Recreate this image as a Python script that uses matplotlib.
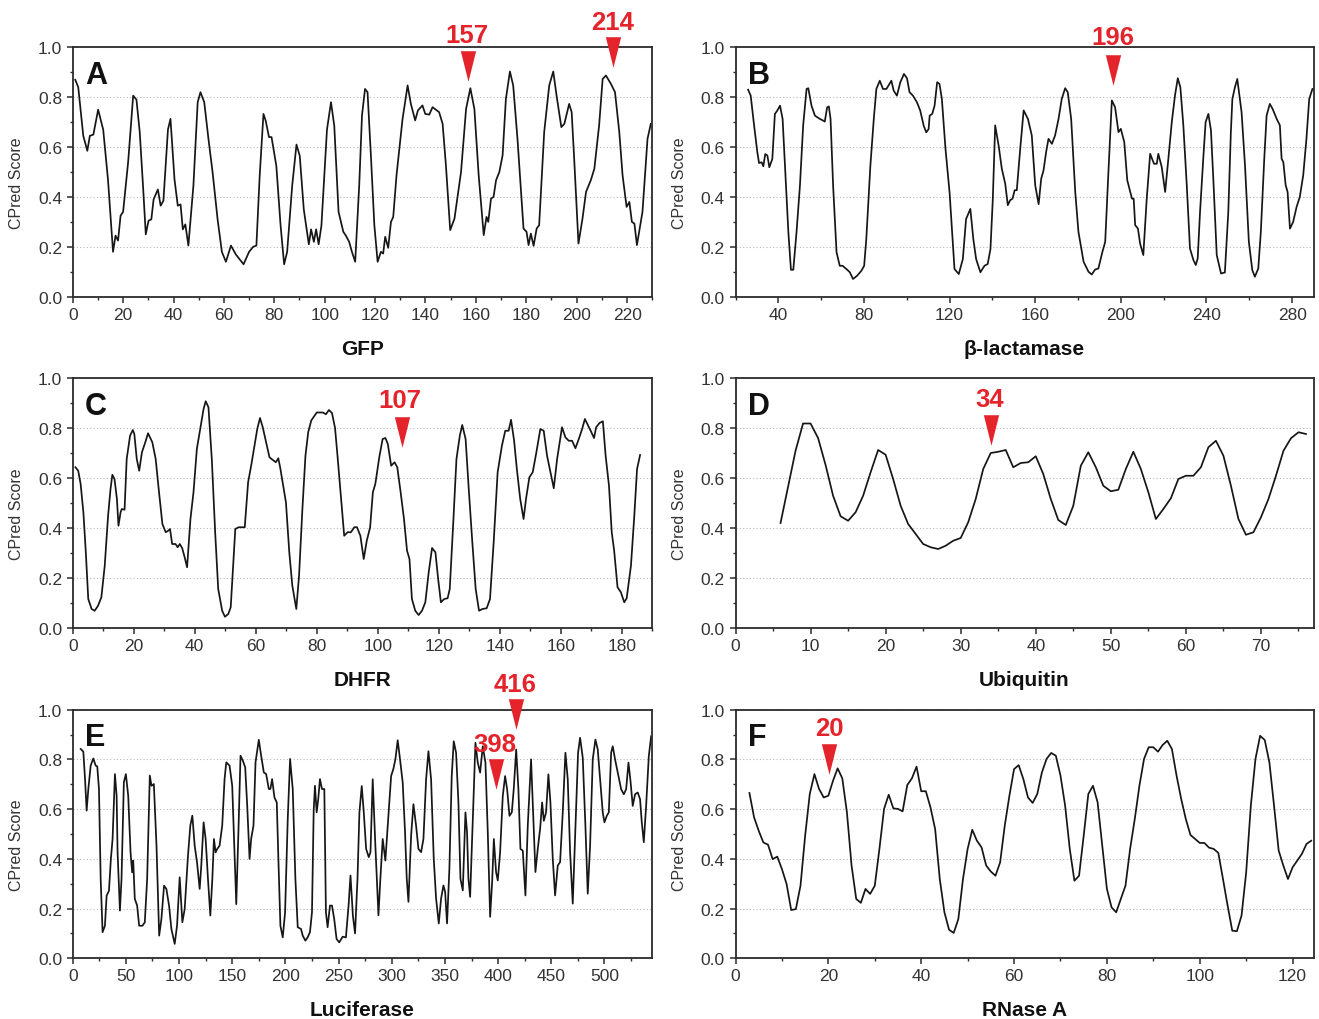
import matplotlib
matplotlib.use("Agg")
import matplotlib.pyplot as plt
from matplotlib.ticker import MultipleLocator
from matplotlib.path import Path

plt.rcParams['font.family'] = ['Liberation Sans', 'DejaVu Sans']

# ---------------- data ----------------
gfp_x = [1, 2.2, 4.2, 5.8, 6.8, 8.2, 10.1, 12.1, 14, 16, 17, 18, 19, 20, 22, 24, 25.3, 26.6, 27.9, 29,
         30.1, 31.2, 32.1, 33.8, 34.9, 36, 37.8, 38.8, 40.4, 41.7, 42.8, 43.7, 44.7, 45.9, 47.9, 49.6,
         50.7, 52.2, 53.9, 55.5, 57.5, 59.2, 60.8, 62.8, 64.7, 67.8, 70, 71.6, 72.9, 74.2, 75.7, 76.6,
         77.9, 78.9, 80.8, 82.5, 83.9, 85.1, 87.1, 88.8, 90.1, 91.7, 93.7, 94.6, 95.7, 96.6, 97.6, 98.7,
         100.9, 102.5, 103.8, 105.5, 107.4, 108.4, 109.7, 110.8, 112.1, 113.7, 114.8, 116, 117, 118.4,
         119.7, 121, 122.3, 123.2, 124, 125.2, 126.3, 127.2, 128.5, 130.9, 132.9, 134.2, 135.9, 137,
         138.8, 139.9, 141.5, 142.8, 145.4, 146.8, 148.1, 149.8, 151.5, 154.1, 156.1, 157.8, 159.4,
         161.1, 163.1, 164.2, 164.9, 166, 167, 168, 169.3, 170.6, 171.9, 173.5, 174.8, 176.5, 178.9,
         180.1, 180.9, 181.8, 182.9, 184.1, 185.1, 187.1, 189.1, 190.7, 192, 193.9, 195.1, 197, 198,
         199, 200.7, 202.3, 203.7, 205.6, 207, 208.9, 210.3, 211.6, 213.6, 215.2, 216.9, 218.2, 219.8,
         220.9, 221.9, 222.9, 223.9, 226.1, 228.1, 229.4]
gfp_y = [0.87, 0.84, 0.645, 0.585, 0.645, 0.65, 0.75, 0.67, 0.47, 0.18, 0.245, 0.225, 0.325, 0.34, 0.54,
         0.806, 0.79, 0.66, 0.445, 0.25, 0.305, 0.31, 0.39, 0.43, 0.365, 0.385, 0.67, 0.713, 0.47, 0.365,
         0.37, 0.27, 0.29, 0.205, 0.445, 0.78, 0.82, 0.78, 0.63, 0.5, 0.31, 0.18, 0.14, 0.205, 0.17, 0.13,
         0.18, 0.2, 0.205, 0.485, 0.733, 0.705, 0.64, 0.64, 0.525, 0.285, 0.13, 0.18, 0.445, 0.61, 0.565,
         0.35, 0.21, 0.27, 0.22, 0.27, 0.21, 0.285, 0.67, 0.78, 0.685, 0.34, 0.26, 0.245, 0.22, 0.18,
         0.14, 0.447, 0.727, 0.833, 0.82, 0.553, 0.287, 0.14, 0.18, 0.173, 0.24, 0.196, 0.3, 0.32, 0.487,
         0.713, 0.847, 0.773, 0.707, 0.747, 0.767, 0.733, 0.73, 0.76, 0.74, 0.693, 0.527, 0.267, 0.313,
         0.5, 0.753, 0.836, 0.753, 0.487, 0.247, 0.32, 0.3, 0.393, 0.4, 0.467, 0.5, 0.567, 0.793, 0.903,
         0.847, 0.633, 0.273, 0.26, 0.207, 0.253, 0.204, 0.273, 0.287, 0.66, 0.847, 0.903, 0.807, 0.68,
         0.693, 0.773, 0.74, 0.553, 0.213, 0.313, 0.42, 0.467, 0.513, 0.687, 0.873, 0.887, 0.853, 0.82,
         0.66, 0.487, 0.36, 0.38, 0.3, 0.293, 0.207, 0.34, 0.633, 0.693]

bla_x = [25.9, 27.1, 28.7, 30.2, 31, 32.2, 33, 33.9, 34.9, 35.8, 37.2, 38.4, 39.5, 40.8, 42, 43.1, 44.7,
         45.9, 47, 48.5, 50.1, 51.6, 53.2, 54, 55.5, 57.1, 59.4, 61, 61.7, 62.8, 63.6, 64.4, 65.6, 67.2,
         68.7, 70, 71.8, 73.4, 74.9, 76.8, 78.8, 80.1, 81.1, 83, 84.6, 85.8, 87.4, 88.9, 90.5, 92.8, 93.9,
         95.4, 97, 98.7, 100.1, 101.3, 102.9, 104.8, 106.3, 107.9, 109.1, 110.2, 110.7, 111.9, 113,
         114.2, 115.3, 116.4, 118.1, 120, 122.3, 124.3, 126.2, 127.7, 129.7, 131.1, 132.4, 134.4, 136.3,
         137.8, 139.1, 140.2, 141.3, 142.9, 144.4, 146, 147.2, 148.3, 149.4, 150.4, 151.4, 153, 154.6,
         156.6, 158.4, 160, 161.6, 162.8, 163.9, 165.1, 166.2, 167.8, 169.3, 170.9, 172.4, 174, 175.2,
         176.8, 178.7, 180.2, 182.6, 184.9, 186.4, 188, 189.5, 191.4, 192.7, 194.2, 195.8, 197.3, 198.9,
         200, 201.6, 203, 204.4, 205.2, 206, 206.7, 208, 209, 210.5, 212.1, 213.7, 215.5, 216.8, 217.5,
         219.1, 220.7, 222.2, 223.8, 225.3, 226.6, 227.8, 229.2, 230.8, 232.3, 233.9, 235, 235.9, 237,
         238.5, 239.6, 240.9, 242.1, 243.2, 244.8, 246.8, 248.6, 250.2, 251.4, 252.1, 253.3, 254.4,
         256.4, 258, 259.8, 261.4, 262.6, 264.2, 265.4, 267, 268.1, 269.6, 270.9, 272.8, 274.3, 275.1,
         275.9, 277, 277.9, 279, 280.5, 282.1, 283.6, 285.2, 286.7, 288, 289.5]
bla_y = [0.83, 0.806, 0.686, 0.579, 0.536, 0.539, 0.523, 0.572, 0.566, 0.519, 0.552, 0.733, 0.746, 0.766,
         0.713, 0.525, 0.258, 0.108, 0.108, 0.258, 0.445, 0.686, 0.833, 0.836, 0.766, 0.726, 0.713,
         0.706, 0.702, 0.759, 0.763, 0.713, 0.445, 0.178, 0.124, 0.124, 0.111, 0.098, 0.071, 0.084,
         0.104, 0.124, 0.231, 0.525, 0.713, 0.833, 0.866, 0.833, 0.833, 0.866, 0.826, 0.806, 0.86, 0.893,
         0.876, 0.82, 0.806, 0.779, 0.746, 0.686, 0.659, 0.672, 0.726, 0.733, 0.766, 0.86, 0.853, 0.793,
         0.592, 0.418, 0.111, 0.091, 0.151, 0.311, 0.352, 0.231, 0.151, 0.098, 0.124, 0.131, 0.191,
         0.392, 0.687, 0.607, 0.513, 0.453, 0.367, 0.387, 0.393, 0.427, 0.427, 0.593, 0.747, 0.713,
         0.647, 0.447, 0.371, 0.473, 0.507, 0.58, 0.633, 0.613, 0.647, 0.713, 0.793, 0.836, 0.82, 0.713,
         0.42, 0.26, 0.14, 0.1, 0.089, 0.109, 0.113, 0.18, 0.22, 0.5, 0.787, 0.76, 0.66, 0.673, 0.62,
         0.467, 0.42, 0.393, 0.393, 0.287, 0.273, 0.213, 0.167, 0.393, 0.573, 0.533, 0.533, 0.573, 0.52,
         0.42, 0.553, 0.7, 0.807, 0.876, 0.84, 0.687, 0.447, 0.193, 0.147, 0.127, 0.153, 0.34, 0.553,
         0.7, 0.733, 0.667, 0.473, 0.167, 0.093, 0.097, 0.34, 0.66, 0.793, 0.84, 0.873, 0.74, 0.527,
         0.22, 0.107, 0.08, 0.113, 0.26, 0.553, 0.727, 0.773, 0.753, 0.713, 0.687, 0.553, 0.54, 0.447,
         0.42, 0.273, 0.3, 0.36, 0.4, 0.487, 0.633, 0.793, 0.833]

dhfr_x = [0.9, 1.8, 2.6, 3.5, 4.3, 5.1, 6.2, 7.2, 8.3, 9.4, 10.5, 11.6, 12.4, 13, 13.7, 14.5, 15, 15.7,
          16.1, 17, 17.7, 18.8, 19.7, 20.2, 21, 21.8, 22.7, 23.8, 24.7, 26.1, 27.2, 28.3, 29.4, 30.5,
          31.3, 31.9, 32.6, 33.7, 34.4, 35.1, 35.9, 36.7, 37.5, 38.6, 39.6, 40.7, 42, 42.9, 43.6, 44.5,
          45.6, 46.7, 47.7, 49, 49.9, 51, 51.8, 52.6, 53.3, 54.4, 56.4, 57.5, 58.5, 59.6, 60.5, 61.4,
          62.3, 63.4, 64.5, 65.5, 66.6, 67.4, 68, 69, 69.9, 71, 72, 73.3, 74.2, 75.3, 76.3, 77.2, 78.2,
          80, 82, 83, 84, 85, 86, 86.8, 87.9, 89, 90.1, 91.2, 92.3, 93.2, 94.3, 95.4, 96.4, 97.5, 98.4,
          99.2, 100.5, 101.6, 102.5, 103.3, 104.4, 105.5, 106.4, 107.5, 108.6, 109.6, 110.4, 111.2,
          112.3, 113.4, 114.5, 115.6, 116.7, 117.8, 118.9, 119.8, 120.7, 121.8, 122.9, 123.6, 124.7,
          125.8, 126.9, 127.7, 128.8, 129.9, 131, 132.1, 133.2, 134.3, 135.7, 136.8, 138, 139.3, 140.7,
          141.8, 142.9, 143.7, 144.7, 145.6, 146.7, 147.8, 148.6, 149.7, 150.8, 151.9, 153.3, 154.4,
          155.5, 156.6, 157.7, 158.8, 160.4, 161.5, 162.6, 163.7, 164.8, 165.9, 167, 167.9, 169, 169.8,
          170.9, 171.6, 172.7, 173.8, 174.7, 175.8, 176.7, 177.5, 178.6, 179.7, 180.8, 181.6, 183,
          184.1, 185, 186]
dhfr_y = [0.643, 0.629, 0.576, 0.463, 0.303, 0.116, 0.076, 0.069, 0.089, 0.123, 0.249, 0.449, 0.556,
          0.613, 0.596, 0.516, 0.409, 0.463, 0.476, 0.473, 0.676, 0.769, 0.792, 0.776, 0.676, 0.629,
          0.703, 0.743, 0.779, 0.743, 0.676, 0.543, 0.416, 0.383, 0.389, 0.396, 0.336, 0.336, 0.323,
          0.336, 0.319, 0.283, 0.243, 0.436, 0.543, 0.716, 0.809, 0.876, 0.907, 0.883, 0.676, 0.383,
          0.156, 0.069, 0.045, 0.056, 0.083, 0.249, 0.396, 0.403, 0.403, 0.583, 0.649, 0.729, 0.796,
          0.84, 0.803, 0.743, 0.683, 0.673, 0.663, 0.679, 0.643, 0.569, 0.503, 0.303, 0.169, 0.076,
          0.209, 0.476, 0.689, 0.783, 0.83, 0.862, 0.862, 0.855, 0.872, 0.86, 0.8, 0.689, 0.529, 0.369,
          0.383, 0.383, 0.403, 0.403, 0.369, 0.276, 0.349, 0.403, 0.543, 0.576, 0.683, 0.756, 0.76,
          0.736, 0.649, 0.663, 0.643, 0.543, 0.436, 0.309, 0.276, 0.116, 0.069, 0.052, 0.069, 0.103,
          0.223, 0.32, 0.303, 0.196, 0.103, 0.116, 0.119, 0.156, 0.409, 0.676, 0.769, 0.812, 0.756,
          0.543, 0.343, 0.156, 0.069, 0.076, 0.079, 0.116, 0.343, 0.623, 0.729, 0.789, 0.789, 0.833,
          0.749, 0.636, 0.516, 0.436, 0.516, 0.603, 0.623, 0.696, 0.796, 0.789, 0.689, 0.623, 0.559,
          0.676, 0.803, 0.763, 0.749, 0.749, 0.719, 0.756, 0.796, 0.836, 0.809, 0.789, 0.76, 0.803, 0.82,
          0.827, 0.689, 0.569, 0.383, 0.309, 0.163, 0.143, 0.103, 0.119, 0.249, 0.449, 0.636, 0.692]

ubq_x = [6, 8, 9, 10, 11, 12, 13, 14, 15, 16, 17, 18, 19, 20, 21, 22, 23, 24, 25, 26, 27, 28, 29, 30,
         31, 32, 33, 34, 35, 36, 37, 38, 39, 40, 41, 42, 43, 44, 45, 46, 47, 48, 49, 50, 51, 52, 53, 54,
         55, 56, 57, 58, 59, 60, 61, 62, 63, 64, 65, 66, 67, 68, 69, 70, 71, 72, 73, 74, 75, 76]
ubq_y = [0.42, 0.709, 0.818, 0.818, 0.76, 0.652, 0.529, 0.447, 0.429, 0.463, 0.529, 0.623, 0.712,
         0.693, 0.596, 0.489, 0.416, 0.376, 0.336, 0.323, 0.316, 0.329, 0.349, 0.36, 0.423, 0.516,
         0.636, 0.7, 0.705, 0.712, 0.643, 0.66, 0.663, 0.687, 0.616, 0.516, 0.432, 0.412, 0.489, 0.649,
         0.703, 0.643, 0.569, 0.547, 0.553, 0.636, 0.705, 0.636, 0.543, 0.436, 0.476, 0.519, 0.596,
         0.609, 0.609, 0.643, 0.723, 0.749, 0.689, 0.569, 0.436, 0.373, 0.383, 0.443, 0.516, 0.609,
         0.709, 0.759, 0.783, 0.776]

luc_x = [7.5, 10, 11.6, 13.1, 14.7, 16.9, 19.4, 21.6, 23.1, 24.7, 26.3, 28.1, 30.3, 31.9, 34.1, 35.9,
         37.5, 39.7, 41.3, 42.2, 44.4, 45.9, 48.1, 50, 52.2, 54.4, 55.9, 56.9, 58.4, 60.6, 62.5, 65.6,
         67.8, 70, 72.5, 74.1, 76.3, 78.8, 81.3, 83.4, 85.9, 88.1, 90.6, 92.8, 95.9, 98.1, 100.6, 103.1,
         105.3, 108.4, 110.6, 112.5, 114.7, 116.9, 119.4, 120.9, 123.1, 125, 127.2, 129.4, 131.3,
         132.8, 134.4, 135.9, 138.1, 140.6, 142.8, 144.4, 147.5, 150, 151.6, 153.8, 155.9, 157.8, 160,
         162.2, 164.1, 166.3, 167.8, 170, 171.9, 175, 177.2, 179.7, 181.9, 184.4, 185.9, 187.5, 189.7,
         191.9, 193.4, 195.3, 197.5, 199.7, 202.2, 204.4, 206.9, 209.4, 211.6, 214.7, 216.3, 218.8,
         220.9, 223.1, 225, 226.6, 227.8, 229.4, 230.9, 232.5, 234.4, 236.6, 238.1, 239.7, 241.9,
         243.8, 245.9, 248.1, 250.6, 253.9, 256.9, 259.4, 261.2, 263.5, 265.5, 267.8, 269.6, 271.8,
         273.7, 275.9, 278.4, 280, 282.1, 284.6, 287.5, 289.3, 291.5, 294, 296.2, 299.4, 301.6, 303.4,
         305.6, 307.8, 310.3, 312.5, 314.1, 315.7, 318.2, 320.4, 322.9, 325.1, 327.6, 329.8, 332.3,
         334.5, 337, 339.5, 341.7, 344.2, 346.4, 348.6, 350.2, 352, 354.2, 356.4, 358.3, 360.5, 362.7,
         364.6, 366.8, 369.3, 370.8, 372.1, 373.7, 376.2, 378.7, 380.9, 383.1, 385.6, 388.1, 390.3,
         392.5, 394.4, 396, 398.1, 399.7, 401.9, 404.4, 406.6, 408.5, 410.7, 412.9, 414.7, 417, 419.1,
         421, 423.2, 425.7, 427.9, 431, 433.2, 435.1, 437.3, 439.5, 441.4, 443, 445.1, 447.3, 449.2,
         451.4, 453.6, 456.1, 458.3, 460.8, 463.3, 465.5, 467.7, 470.2, 472.7, 475.2, 477.1, 479.6,
         482.1, 484.3, 486.5, 489, 491.5, 493.7, 495.9, 498.4, 500, 502.2, 504.1, 506.3, 507.8, 510,
         512.5, 515.7, 518.2, 520.4, 522.6, 524.5, 526.6, 528.8, 531.3, 533.5, 535.1, 537, 539.2,
         541.7, 543.9]
luc_y = [0.842, 0.831, 0.721, 0.594, 0.681, 0.775, 0.804, 0.775, 0.772, 0.681, 0.319, 0.105, 0.131,
         0.252, 0.272, 0.4, 0.48, 0.741, 0.654, 0.426, 0.192, 0.319, 0.708, 0.741, 0.654, 0.426, 0.346,
         0.393, 0.239, 0.212, 0.131, 0.131, 0.145, 0.319, 0.735, 0.694, 0.701, 0.453, 0.091, 0.158,
         0.292, 0.279, 0.212, 0.118, 0.058, 0.131, 0.326, 0.145, 0.198, 0.413, 0.534, 0.574, 0.453,
         0.386, 0.279, 0.373, 0.547, 0.48, 0.319, 0.172, 0.319, 0.48, 0.426, 0.44, 0.453, 0.534, 0.721,
         0.788, 0.775, 0.694, 0.493, 0.218, 0.52, 0.815, 0.795, 0.768, 0.614, 0.4, 0.48, 0.534, 0.788,
         0.879, 0.815, 0.748, 0.741, 0.681, 0.681, 0.721, 0.647, 0.627, 0.4, 0.131, 0.084, 0.185, 0.56,
         0.802, 0.681, 0.319, 0.125, 0.118, 0.091, 0.071, 0.084, 0.105, 0.185, 0.594, 0.694, 0.587,
         0.641, 0.721, 0.681, 0.681, 0.185, 0.125, 0.212, 0.212, 0.158, 0.078, 0.064, 0.087, 0.084,
         0.212, 0.333, 0.17, 0.1, 0.32, 0.587, 0.693, 0.587, 0.44, 0.407, 0.427, 0.72, 0.453, 0.173,
         0.32, 0.48, 0.393, 0.533, 0.733, 0.763, 0.8, 0.877, 0.8, 0.707, 0.507, 0.32, 0.227, 0.493,
         0.62, 0.533, 0.44, 0.427, 0.48, 0.72, 0.833, 0.72, 0.4, 0.24, 0.14, 0.24, 0.293, 0.267, 0.14,
         0.36, 0.733, 0.873, 0.827, 0.627, 0.32, 0.273, 0.587, 0.507, 0.32, 0.247, 0.56, 0.867, 0.787,
         0.747, 0.853, 0.787, 0.507, 0.167, 0.307, 0.48, 0.347, 0.313, 0.427, 0.653, 0.733, 0.68,
         0.573, 0.587, 0.68, 0.84, 0.68, 0.44, 0.433, 0.253, 0.533, 0.8, 0.56, 0.347, 0.44, 0.52, 0.627,
         0.553, 0.587, 0.74, 0.627, 0.4, 0.253, 0.373, 0.387, 0.587, 0.827, 0.72, 0.427, 0.22, 0.52,
         0.827, 0.887, 0.807, 0.533, 0.26, 0.453, 0.8, 0.88, 0.84, 0.72, 0.587, 0.547, 0.573, 0.587,
         0.827, 0.853, 0.8, 0.747, 0.68, 0.66, 0.68, 0.787, 0.713, 0.613, 0.66, 0.667, 0.64, 0.547,
         0.467, 0.613, 0.813, 0.893]

rna_x = list(range(3, 125))
rna_y = [0.665, 0.567, 0.513, 0.466, 0.457, 0.399, 0.409, 0.359, 0.299, 0.194, 0.198, 0.292, 0.493,
         0.661, 0.741, 0.681, 0.647, 0.654, 0.714, 0.764, 0.724, 0.587, 0.373, 0.239, 0.223, 0.279,
         0.259, 0.292, 0.44, 0.601, 0.658, 0.603, 0.601, 0.591, 0.697, 0.724, 0.771, 0.672, 0.672,
         0.607, 0.52, 0.319, 0.185, 0.115, 0.102, 0.158, 0.319, 0.44, 0.517, 0.473, 0.446, 0.373,
         0.349, 0.332, 0.386, 0.534, 0.654, 0.761, 0.777, 0.721, 0.647, 0.625, 0.661, 0.748, 0.802,
         0.826, 0.815, 0.735, 0.614, 0.44, 0.312, 0.332, 0.493, 0.661, 0.694, 0.627, 0.453, 0.279,
         0.205, 0.185, 0.239, 0.292, 0.44, 0.56, 0.694, 0.802, 0.849, 0.849, 0.831, 0.858, 0.875,
         0.842, 0.735, 0.641, 0.56, 0.496, 0.48, 0.464, 0.464, 0.445, 0.44, 0.424, 0.319, 0.212, 0.111,
         0.109, 0.172, 0.346, 0.614, 0.802, 0.895, 0.878, 0.788, 0.614, 0.433, 0.373, 0.319, 0.366,
         0.393, 0.42, 0.46, 0.473]

# panel letters, axis names, x-limits, tick steps
letters = ['A', 'B', 'C', 'D', 'E', 'F']
names = ['GFP', '\u03b2-lactamase', 'DHFR', 'Ubiquitin', 'Luciferase', 'RNase A']
xlims = [(0, 230), (20, 290), (0, 190), (0, 77), (0, 545), (0, 124.5)]
major_steps = [20, 40, 20, 10, 50, 20]
minor_steps = [10, 20, 10, 5, 25, 10]

# annotations: (label, triangle x, triangle centre y, text x, text baseline y)
ann_panel = [0, 0, 1, 2, 3, 4, 4, 5]
ann_label = ['157', '214', '196', '107', '34', '416', '398', '20']
ann_tri_x = [157, 214.5, 196.4, 107.8, 34, 416.5, 398, 20.2]
ann_tri_y = [0.926, 0.981, 0.908, 0.785, 0.794, 0.983, 0.74, 0.803]
ann_txt_x = [156.6, 214.3, 196.4, 107.4, 33.9, 415.9, 396.6, 20.2]
ann_txt_y = [1.023, 1.075, 1.012, 0.883, 0.889, 1.076, 0.833, 0.898]

series = [(gfp_x, gfp_y), (bla_x, bla_y), (dhfr_x, dhfr_y), (ubq_x, ubq_y), (luc_x, luc_y), (rna_x, rna_y)]

# ---------------- figure ----------------
W, H = 1319, 1020
fig = plt.figure(figsize=(W / 100, H / 100), dpi=100)

# pixel boxes (left, right, top, bottom)
boxes = [(72.7, 652.3, 48.3, 297.7), (735.5, 1313.5, 48.3, 297.7),
         (72.7, 652.3, 379.0, 629.0), (735.5, 1313.5, 379.0, 629.0),
         (72.7, 652.3, 710.7, 959.3), (735.5, 1313.5, 710.7, 959.3)]

dark = '#2b2b2b'
red = '#e4232b'
tri = Path([(-0.5, 1), (0.5, 1), (0, -1), (-0.5, 1)],
           [Path.MOVETO, Path.LINETO, Path.LINETO, Path.CLOSEPOLY])

axes = []
for i, (l, r, t, b) in enumerate(boxes):
    ax = fig.add_axes([l / W, 1 - b / H, (r - l) / W, (b - t) / H])
    axes.append(ax)
    xs, ys = series[i]
    ax.plot(xs, ys, color='#161616', lw=1.25, solid_joinstyle='round')
    ax.set_xlim(*xlims[i])
    ax.set_ylim(0, 1.0)
    ax.xaxis.set_major_locator(MultipleLocator(major_steps[i]))
    ax.xaxis.set_minor_locator(MultipleLocator(minor_steps[i]))
    ax.yaxis.set_major_locator(MultipleLocator(0.2))
    ax.yaxis.set_minor_locator(MultipleLocator(0.1))
    ax.yaxis.set_major_formatter(matplotlib.ticker.FormatStrFormatter('%.1f'))
    ax.grid(axis='y', which='major', linestyle=(0, (1, 2)), color='#b8b8b8', lw=0.8)
    ax.set_axisbelow(True)
    for s in ax.spines.values():
        s.set_color(dark)
        s.set_linewidth(1.3)
    ax.tick_params(which='major', direction='out', length=4.5, width=1.1, color=dark,
                   labelsize=12.5, labelcolor='#333333')
    ax.tick_params(axis='x', which='major', pad=2.7)
    ax.tick_params(axis='y', which='major', pad=3.2)
    ax.tick_params(which='minor', direction='out', length=2.5, width=1.0, color=dark)
    ax.tick_params(top=False, right=False, which='both')
    ax.set_xlabel(names[i], fontsize=15, fontweight='bold', color='#111111', va='baseline')
    ax.xaxis.set_label_coords(0.5, -0.228)
    ax.set_ylabel('CPred Score', fontsize=11.5, color='#333333', va='center')
    ax.yaxis.set_label_coords(-0.097, 0.46)
    ax.text(0.021, 0.857, letters[i], transform=ax.transAxes, fontsize=22, fontweight='bold',
            color='#111111', ha='left', va='baseline')

for k in range(len(ann_label)):
    ax = axes[ann_panel[k]]
    ax.plot([ann_tri_x[k]], [ann_tri_y[k]], marker=tri, markersize=22, color=red,
            markeredgewidth=0, linestyle='none', clip_on=False, zorder=5)
    ax.text(ann_txt_x[k], ann_txt_y[k], ann_label[k], color=red, fontsize=18.5,
            fontweight='bold', ha='center', va='baseline', clip_on=False, zorder=6)

fig.savefig('out.png', dpi=100)
